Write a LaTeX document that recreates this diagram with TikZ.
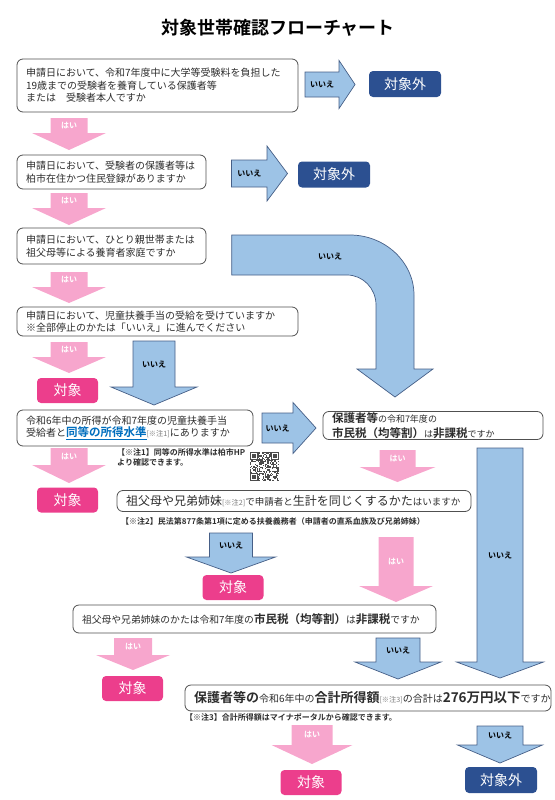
\documentclass[tikz,border=0pt]{standalone}
\usepackage{fontspec}
\setmainfont{Noto Sans CJK JP}[BoldFont={Noto Sans CJK JP Bold}]

\definecolor{YesPink}{RGB}{247,166,205}
\definecolor{NoBlue}{RGB}{157,195,230}
\definecolor{NoLine}{RGB}{70,95,135}
\definecolor{TaiPink}{RGB}{236,62,140}
\definecolor{TaiBlue}{RGB}{44,80,145}
\definecolor{BoxLine}{RGB}{80,80,80}
\definecolor{BoxText}{RGB}{45,45,45}
\definecolor{NoteGray}{RGB}{125,125,125}
\definecolor{LinkBlue}{RGB}{0,110,190}
\definecolor{QRc}{RGB}{75,75,75}

% text pieces
\newcommand{\Kyo}[2][11.5]{{\fontsize{#1}{13}\selectfont\bfseries #2}}
\newcommand{\Dai}[1]{{\fontsize{12}{13}\selectfont #1}}
\newcommand{\Chu}[1]{{\fontsize{7.2}{8}\selectfont\color{NoteGray}#1}}
\newcommand{\Lnk}[1]{{\fontsize{11.5}{13}\selectfont\bfseries\color{LinkBlue}\underline{#1}}}

% block arrows: style, name, x, top, head top, tip, half body, half head, label
\newcommand{\DownBlock}[9]{%
  \draw[#1] (#3-#7,#4) -- (#3+#7,#4) -- (#3+#7,#5) -- (#3+#8,#5) -- (#3,#6)
    -- (#3-#8,#5) -- (#3-#7,#5) -- cycle;
  \node[#1Text] (#2) at (#3,{(#4+#5)/2}) {#9};}
% style, name, y, left, head x, tip, half body, half head, label
\newcommand{\RightBlock}[9]{%
  \draw[#1] (#4,#3-#7) -- (#5,#3-#7) -- (#5,#3-#8) -- (#6,#3) -- (#5,#3+#8)
    -- (#5,#3+#7) -- (#4,#3+#7) -- cycle;
  \node[#1Text] (#2) at ({(#4+#5)/2},#3) {#9};}

\begin{document}
\begin{tikzpicture}[x=1pt,y=-1pt]
  \useasboundingbox (0,0) rectangle (554,800);

  % node styles
  \tikzstyle{Head}=[font=\fontsize{18}{20}\selectfont\bfseries]
  \tikzstyle{Box}=[
  draw=BoxLine,
  line width=0.8pt,
  rounded corners=6pt,
  fill=white,
  align=left,
  inner xsep=9pt, inner ysep=1pt,
  text=BoxText,
  font=\fontsize{10}{12.5}\selectfont]
  \tikzstyle{Tai}=[fill=TaiPink,rounded corners=4pt,text=white,inner sep=0,
  minimum width=61pt,minimum height=25pt,font=\fontsize{14}{16}\selectfont]
  \tikzstyle{Gai}=[Tai,fill=TaiBlue,minimum width=72pt,minimum height=26pt]
  \tikzstyle{Note}=[anchor=west,inner sep=0,align=left,text=BoxText,
  font=\fontsize{8}{9.5}\selectfont\bfseries]
  \tikzstyle{Yes}=[fill=YesPink,draw=none]
  \tikzstyle{YesText}=[text=white,inner sep=0,font=\fontsize{8}{9}\selectfont\bfseries]
  \tikzstyle{No}=[fill=NoBlue,draw=NoLine,line width=0.7pt]
  \tikzstyle{NoText}=[text=black,inner sep=0,font=\fontsize{8}{9}\selectfont\bfseries]

  \node[Head] (H) at (278,28) {対象世帯確認フローチャート};

  % questions
  \node[Box,text width=263pt,minimum height=53pt] (Q1) at (157.5,85.5)
    {申請日において、令和7年度中に大学等受験料を負担した\\19歳までの受験者を養育している保護者等\\または　受験者本人ですか};
  \node[Box,text width=171pt,minimum height=34pt] (Q2) at (111.5,172)
    {申請日において、受験者の保護者等は\\柏市在住かつ住民登録がありますか};
  \node[Box,text width=171pt,minimum height=36pt] (Q3) at (111.5,246)
    {申請日において、ひとり親世帯または\\祖父母等による養育者家庭ですか};
  \node[Box,text width=263pt,minimum height=29pt] (Q4) at (157.5,321.5)
    {申請日において、児童扶養手当の受給を受けていますか\\※全部停止のかたは「いいえ」に進んでください};
  \node[Box,text width=218pt,minimum height=36pt] (Q5) at (135,428)
    {令和6年中の所得が令和7年度の児童扶養手当\\受給者と\Lnk{同等の所得水準}\Chu{[※注1]}にありますか};
  \node[Box,text width=202pt,minimum height=27pt,font=\fontsize{9}{15}\selectfont] (Q6) at (433,425.5)
    {\Kyo{保護者等}の令和7年度の\\\Kyo{市民税（均等割）}は\Kyo{非課税}ですか};
  \node[Box,text width=336pt,minimum height=21pt,font=\fontsize{9.5}{13}\selectfont] (Q7) at (294,501)
    {\Dai{祖父母や兄弟姉妹}\Chu{[※注2]}で申請者と\Dai{生計を同じくするかた}はいますか};
  \node[Box,text width=345pt,minimum height=28pt,font=\fontsize{9.8}{13}\selectfont] (Q8) at (254.5,619)
    {祖父母や兄弟姉妹のかたは令和7年度の\Kyo{市民税（均等割）}は\Kyo{非課税}ですか};
  \node[Box,text width=348pt,minimum height=26pt,font=\fontsize{10}{13}\selectfont] (Q9) at (368,698)
    {\Kyo[13]{保護者等の}令和6年中の\Kyo[13]{合計所得額}\Chu{[※注3]}の合計は\Kyo[13.5]{276万円以下}ですか};

  % notes
  \node[Note] (C1) at (117,457.5) {【※注1】同等の所得水準は柏市HP\\より確認できます。};
  \node[Note] (C2) at (121,521) {【※注2】民法第877条第1項に定める扶養義務者（申請者の直系血族及び兄弟姉妹）};
  \node[Note] (C3) at (185,717) {【※注3】合計所得額はマイナポータルから確認できます。};

  % QR code
  \pgfmathsetseed{11}
  \foreach \i in {0,...,24}{
    \foreach \j in {0,...,24}{
      \pgfmathtruncatemacro{\on}{rnd+0.5}
      \ifnum\on=1 \fill[QRc] (250+\i*1.16,452+\j*1.16) rectangle ++(1.16,1.16); \fi
    }}
  \foreach \u/\v in {250/452,270.9/452,250/472.9}{
    \fill[white] (\u,\v) rectangle ++(8.1,8.1);
    \draw[QRc,line width=1.16pt] (\u+0.58,\v+0.58) rectangle ++(6.96,6.96);
    \fill[QRc] (\u+2.32,\v+2.32) rectangle ++(3.48,3.48);}

  % results
  \node[Gai] (G1) at (405,84) {対象外};
  \node[Gai] (G2) at (334,174.5) {対象外};
  \node[Gai] (G3) at (501,780) {対象外};
  \node[Tai] (T1) at (67.5,390.5) {対象};
  \node[Tai] (T2) at (67.5,500) {対象};
  \node[Tai] (T3) at (233,587.5) {対象};
  \node[Tai] (T4) at (132.5,688.5) {対象};
  \node[Tai] (T5) at (311,782.5) {対象};

  % yes arrows
  \DownBlock{Yes}{A1}{69}{118}{133}{150}{18.5}{37}{はい}
  \DownBlock{Yes}{A2}{69}{193}{208}{225}{18.5}{37}{はい}
  \DownBlock{Yes}{A3}{69}{272}{287}{303}{18.5}{37}{はい}
  \DownBlock{Yes}{A4}{69}{342}{357}{373}{18.5}{37}{はい}
  \DownBlock{Yes}{A5}{69}{448}{465}{483}{18.5}{37}{はい}
  \DownBlock{Yes}{A6}{397.5}{450}{467}{482}{18}{38}{はい}
  \DownBlock{Yes}{A7}{396}{537}{586}{602}{17.5}{37}{はい}
  \DownBlock{Yes}{A8}{133}{638}{655}{670}{19}{37}{はい}
  \DownBlock{Yes}{A9}{312}{725}{745}{764}{20.5}{40.5}{はい}

  % no arrows
  \RightBlock{No}{B1}{84.5}{305}{339}{355}{12.5}{24}{いいえ}
  \RightBlock{No}{B2}{173.5}{231.5}{267}{287.5}{13.5}{27.5}{いいえ}
  \RightBlock{No}{B5}{428}{262}{293}{316}{15}{25.5}{いいえ}
  \DownBlock{No}{B4}{154}{341}{387}{405}{21}{43}{いいえ}
  \DownBlock{No}{B7}{231}{533}{557}{573}{21.5}{44.5}{いいえ}
  \DownBlock{No}{B8}{398}{638}{662}{679}{22}{43}{いいえ}
  \DownBlock{No}{B6}{500}{448}{662}{678}{23}{43.5}{いいえ}
  \DownBlock{No}{B9}{500}{726}{745}{763}{23}{42.5}{いいえ}

  \draw[No] (231.7,235) -- (350,235) .. controls (385,235) and (414,262) .. (414,295)
    -- (414,369) -- (433,369) -- (395,397) -- (357,369) -- (376,369) -- (376,305)
    .. controls (376,288.5) and (363,275) .. (347,275) -- (231.7,275) -- cycle;
  \node[NoText] (B3) at (330,256) {いいえ};

\end{tikzpicture}
\end{document}
